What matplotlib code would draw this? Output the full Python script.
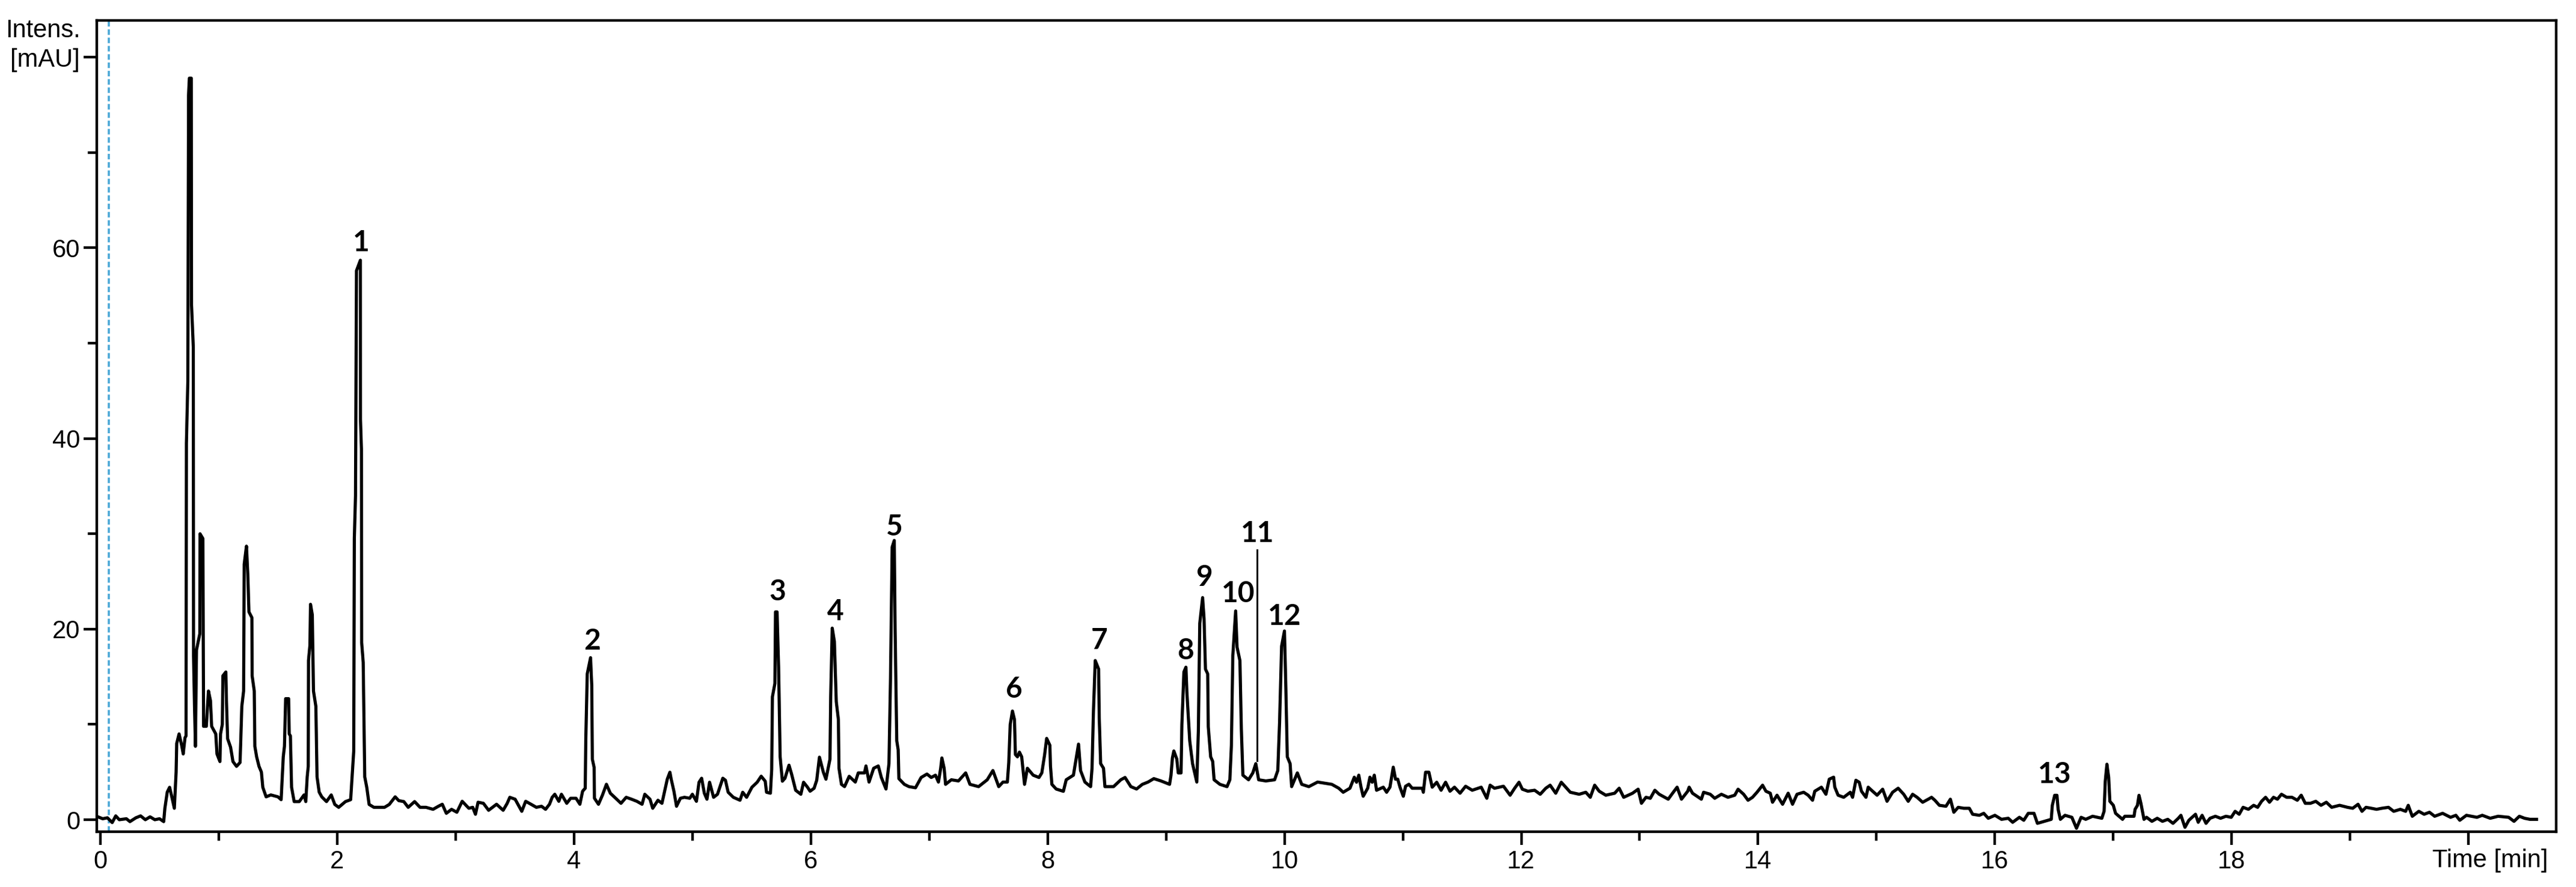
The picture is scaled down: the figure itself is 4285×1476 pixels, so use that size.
import matplotlib
matplotlib.use('Agg')
import matplotlib.pyplot as plt
from matplotlib.ticker import FixedLocator, MultipleLocator

# ---- chromatogram trace, in segments ----
time_a = [-0.02, 0.02, 0.06, 0.10, 0.13, 0.16, 0.22, 0.25, 0.30, 0.34, 0.38, 0.42, 0.46, 0.50, 0.535,
          0.545, 0.565, 0.585, 0.60, 0.625, 0.64, 0.645, 0.665, 0.685, 0.70, 0.715, 0.724,
          0.727, 0.739, 0.745, 0.752, 0.768, 0.770, 0.785, 0.787, 0.795, 0.803,
          0.812, 0.840, 0.842, 0.866, 0.872, 0.895, 0.913, 0.930, 0.940, 0.975, 0.985, 1.010,
          1.015, 1.030, 1.035, 1.060, 1.065, 1.075, 1.100, 1.120, 1.150, 1.180, 1.195, 1.210,
          1.215, 1.234, 1.245, 1.255, 1.280, 1.282, 1.300, 1.305, 1.320, 1.340, 1.360, 1.372,
          1.400, 1.440, 1.500, 1.527, 1.545, 1.555, 1.565, 1.590, 1.595, 1.605, 1.615, 1.637,
          1.680, 1.720, 1.735, 1.747, 1.756, 1.758, 1.770, 1.775, 1.790, 1.800, 1.820, 1.830,
          1.848, 1.870, 1.910, 1.950, 1.980, 2.013, 2.070, 2.114, 2.132, 2.140, 2.145, 2.155,
          2.163, 2.196, 2.197, 2.205, 2.207, 2.220, 2.233, 2.250, 2.270, 2.310, 2.360, 2.400,
          2.440, 2.490, 2.520, 2.563, 2.600, 2.654, 2.700, 2.750]
int_a = [0.3, 0.1, 0.2, -0.3, 0.4, 0.0, 0.1, -0.2, 0.2, 0.4, 0.0, 0.3, 0.0, 0.1, -0.2,
         1.2, 2.9, 3.4, 2.6, 1.2, 5.0, 8.0, 9.0, 7.9, 6.9, 8.6, 8.8,
         39.5, 46.0, 76.0, 77.8, 77.8, 54.0, 49.6, 17.2, 12.0, 7.7,
         17.8, 19.5, 30.0, 29.5, 9.8, 9.8, 13.5, 12.5, 9.8, 9.0, 6.9, 6.1,
         9.0, 10.0, 15.1, 15.5, 12.5, 8.5, 7.6, 6.1, 5.6, 6.0, 11.9, 13.5,
         26.8, 28.7, 25.8, 21.8, 21.2, 15.1, 13.5, 7.7, 6.6, 5.6, 5.0, 3.4,
         2.4, 2.6, 2.4, 2.1, 6.6, 7.7, 12.7, 12.7, 9.0, 8.8, 3.4, 1.9,
         1.9, 2.6, 1.9, 4.5, 5.6, 16.7, 18.3, 22.6, 21.5, 13.5, 11.9, 4.5,
         2.9, 2.4, 1.9, 2.6, 1.6, 1.3, 1.9, 2.1, 5.6, 7.2, 29.5, 34.0,
         57.6, 58.7, 42.0, 38.9, 18.6, 16.5, 4.5, 3.4, 1.6, 1.3, 1.3, 1.3,
         1.6, 2.4, 2.0, 1.9, 1.3, 1.9, 1.3, 1.3]

time_b = [2.810, 2.855, 2.888, 2.922, 2.966, 3.011, 3.056, 3.112, 3.145, 3.168,
          3.190, 3.235, 3.279, 3.346, 3.402, 3.436, 3.458, 3.503, 3.559, 3.592,
          3.637, 3.682, 3.726, 3.760, 3.793, 3.816, 3.838, 3.872, 3.894, 3.939,
          3.972, 4.017, 4.050, 4.073, 4.095,
          4.100, 4.112, 4.140, 4.150, 4.155, 4.170, 4.173,
          4.207, 4.240, 4.274, 4.307, 4.352, 4.397, 4.441, 4.486, 4.531, 4.575,
          4.598, 4.642, 4.665, 4.709, 4.743, 4.788, 4.810, 4.821, 4.844, 4.866,
          4.899, 4.933, 4.978, 5.000, 5.034, 5.056, 5.078, 5.101, 5.123, 5.145,
          5.179, 5.212, 5.257, 5.279, 5.302, 5.346, 5.402, 5.425, 5.458, 5.503,
          5.547, 5.581, 5.615, 5.626, 5.659, 5.670,
          5.676, 5.697, 5.702, 5.715, 5.728, 5.741,
          5.760, 5.782, 5.816, 5.838, 5.872, 5.916, 5.939, 5.972, 5.994, 6.028,
          6.050, 6.073, 6.106, 6.128, 6.162]
int_b = [1.09, 1.41, 1.62, 0.67, 1.09, 0.78, 1.93, 1.20, 1.30, 0.57,
         1.83, 1.72, 0.99, 1.62, 0.99, 1.72, 2.35, 2.15, 0.88, 1.93,
         1.62, 1.30, 1.41, 1.09, 1.62, 2.35, 2.67, 1.93, 2.67, 1.72,
         2.25, 2.25, 1.62, 2.99, 3.30,
         8.53, 15.3, 17.0, 14.1, 6.36, 5.5, 2.25,
         1.62, 2.57, 3.72, 2.78, 2.25, 1.72, 2.35, 2.15, 1.93, 1.62,
         2.67, 2.15, 1.20, 2.04, 1.72, 4.25, 4.98, 4.25, 2.99, 1.41,
         2.25, 2.35, 2.25, 2.67, 1.93, 3.93, 4.35, 2.78, 2.15, 3.93,
         2.35, 2.67, 4.35, 4.14, 2.88, 2.35, 2.04, 2.88, 2.35, 3.41,
         3.93, 4.56, 4.04, 2.88, 2.78, 5.30,
         12.9, 14.3, 21.8, 21.8, 16.0, 6.60,
         4.04, 4.35, 5.72, 4.77, 3.09, 2.67, 3.93, 3.41, 2.99, 3.30,
         4.14, 6.56, 4.98, 4.25, 6.35]

time_c = [6.168, 6.181, 6.199, 6.215, 6.233, 6.238, 6.259, 6.285, 6.324, 6.376,
          6.401, 6.453, 6.466, 6.492, 6.531, 6.570, 6.596, 6.635, 6.660, 6.673,
          6.687, 6.705, 6.712, 6.726, 6.738, 6.744, 6.790, 6.829]
int_c = [12.9, 20.1, 18.7, 12.4, 10.5, 5.40, 3.71, 3.47, 4.55, 3.95,
         4.91, 4.91, 5.64, 3.95, 5.40, 5.64, 4.43, 3.22, 5.88, 14.8,
         28.6, 29.3, 20.1, 8.29, 7.33, 4.31, 3.71, 3.47]

time_d = [6.884, 6.932, 6.981, 7.017, 7.053, 7.078, 7.097, 7.107, 7.126, 7.138, 7.187, 7.247,
          7.308, 7.344, 7.417, 7.490, 7.538, 7.587, 7.623, 7.660, 7.672, 7.684, 7.703, 7.720,
          7.728, 7.745, 7.762, 7.781, 7.805, 7.829, 7.878, 7.927, 7.951, 7.975, 7.992, 8.019,
          8.024, 8.036, 8.072, 8.133, 8.157, 8.218, 8.247, 8.261, 8.278, 8.315, 8.363, 8.375,
          8.387, 8.402, 8.431, 8.436, 8.448, 8.472, 8.484, 8.557, 8.618, 8.654, 8.703, 8.751,
          8.800, 8.848, 8.897, 8.957, 9.030, 9.042, 9.054, 9.066, 9.091, 9.103, 9.127, 9.134,
          9.151, 9.168, 9.176, 9.200, 9.224, 9.260, 9.273, 9.285, 9.309, 9.321, 9.333, 9.352,
          9.357, 9.377, 9.394, 9.406, 9.455, 9.515, 9.539, 9.552, 9.564, 9.588, 9.600, 9.624,
          9.636, 9.649, 9.697, 9.733, 9.758, 9.782, 9.843, 9.917, 9.944, 9.959, 9.976, 10.000,
          10.012, 10.024, 10.048, 10.061, 10.109, 10.146, 10.206, 10.280, 10.400]
int_d = [3.35, 4.43, 4.79, 4.43, 4.67, 3.95, 5.40, 6.48, 5.40, 3.71, 4.19, 4.07,
         4.91, 3.71, 3.47, 4.19, 5.16, 3.47, 3.95, 3.95, 6.00, 9.98, 11.4, 10.5,
         6.84, 6.60, 7.09, 6.60, 3.71, 5.40, 4.67, 4.43, 4.91, 6.84, 8.53, 7.81,
         5.64, 3.71, 3.22, 2.98, 4.19, 4.67, 6.84, 7.93, 5.16, 3.95, 3.47, 5.40,
         11.4, 16.7, 15.8, 10.7, 5.88, 5.40, 3.47, 3.47, 4.19, 4.43, 3.47, 3.22,
         3.71, 3.95, 4.31, 4.07, 3.71, 4.67, 6.48, 7.21, 6.36, 4.91, 4.91, 9.98,
         15.5, 16.0, 13.4, 8.29, 5.88, 3.95, 9.26, 20.6, 23.3, 21.1, 15.8, 15.3,
         9.74, 6.60, 6.12, 4.19, 3.71, 3.47, 4.19, 7.81, 17.2, 21.9, 18.1, 16.7,
         9.50, 4.67, 4.19, 4.91, 5.88, 4.19, 4.07, 4.19, 5.16, 10.2, 18.2, 19.8,
         13.8, 6.60, 5.88, 3.47, 4.91, 3.71, 3.47, 3.95, 3.71]

time_e = [10.459, 10.496, 10.553, 10.590, 10.609, 10.628, 10.647, 10.665, 10.703, 10.722,
          10.741, 10.759, 10.778, 10.835, 10.863, 10.891, 10.919, 10.938, 10.957, 10.976,
          11.004, 11.023, 11.051, 11.079, 11.164, 11.173, 11.192, 11.220, 11.248, 11.286,
          11.323, 11.361, 11.398, 11.436, 11.483, 11.530, 11.586, 11.662, 11.709, 11.737,
          11.774, 11.850, 11.906, 11.944, 11.981, 12.009, 12.056, 12.113, 12.160, 12.207,
          12.244, 12.291, 12.338, 12.376, 12.414, 12.489, 12.545, 12.583, 12.620, 12.658,
          12.714, 12.789, 12.827, 12.865, 12.940, 12.987, 13.015, 13.053, 13.090, 13.128,
          13.165, 13.241, 13.278, 13.316, 13.353, 13.406]
int_e = [3.30, 2.88, 3.30, 4.46, 3.93, 4.67, 3.41, 2.46, 3.30, 4.46,
         3.93, 4.67, 3.09, 3.41, 2.88, 3.41, 5.51, 4.25, 4.25, 3.41,
         2.46, 3.51, 3.72, 3.30, 3.30, 2.88, 4.98, 4.98, 3.41, 3.93,
         3.09, 3.93, 2.99, 3.41, 2.78, 3.51, 3.09, 3.41, 2.25, 3.62,
         3.30, 3.51, 2.57, 3.30, 3.93, 3.20, 2.99, 3.09, 2.67, 3.30,
         3.62, 2.78, 3.93, 3.41, 2.88, 2.67, 2.88, 2.35, 3.62, 2.99,
         2.57, 2.78, 3.30, 2.35, 2.78, 3.20, 1.72, 2.35, 2.25, 3.09,
         2.67, 2.15, 2.78, 3.41, 2.15, 2.99]

time_f = [13.418, 13.446, 13.484, 13.521, 13.540, 13.596, 13.634, 13.690, 13.746, 13.803,
          13.831, 13.878, 13.915, 13.953, 13.991, 14.038, 14.066, 14.103, 14.122, 14.160,
          14.207, 14.254, 14.291, 14.329, 14.385, 14.423, 14.460, 14.479, 14.535, 14.573,
          14.601, 14.638, 14.648, 14.676, 14.723, 14.779, 14.798, 14.826, 14.854, 14.873,
          14.911, 14.930, 14.967, 15.005, 15.052, 15.089, 15.136, 15.183, 15.230, 15.268,
          15.305, 15.343, 15.390, 15.437, 15.465, 15.493, 15.531, 15.587, 15.624, 15.653,
          15.690, 15.737, 15.784, 15.812, 15.869, 15.906, 15.944, 16.000, 16.056, 16.113,
          16.150, 16.207, 16.244, 16.282]
int_f = [3.41, 2.78, 2.46, 2.15, 2.88, 2.67, 2.25, 2.67, 2.35, 2.57,
         3.20, 2.67, 2.04, 2.35, 2.88, 3.62, 2.99, 2.78, 1.83, 2.57,
         1.62, 2.78, 1.62, 2.67, 2.88, 2.57, 2.04, 2.99, 3.41, 2.67,
         4.25, 4.46, 3.41, 2.57, 2.35, 2.88, 2.35, 4.14, 3.93, 2.99,
         2.35, 3.41, 2.99, 2.57, 3.20, 1.93, 2.88, 3.30, 2.67, 1.93,
         2.67, 2.35, 1.83, 2.15, 2.35, 2.04, 1.51, 1.41, 2.15, 0.78,
         1.30, 1.20, 1.20, 0.57, 0.46, 0.67, 0.15, 0.46, 0.04, 0.15,
         -0.27, 0.25, -0.06, 0.67]

time_g = [16.330, 16.359, 16.417, 16.476, 16.485, 16.505, 16.524, 16.534, 16.553, 16.592,
          16.650, 16.689, 16.728, 16.767, 16.825, 16.903, 16.922, 16.932, 16.946, 16.961,
          16.971, 17.000, 17.019, 17.078, 17.097, 17.175, 17.184, 17.204, 17.217, 17.233]
int_g = [0.67, -0.38, -0.17, 0.04, 1.51, 2.56, 2.56, 1.09, 0.04, 0.46,
         0.25, -0.90, 0.25, 0.04, 0.36, 0.15, 0.88, 4.03, 5.82, 4.45,
         1.93, 1.51, 0.67, 0.04, 0.36, 0.36, 1.09, 1.51, 2.56, 1.72]

time_h = [17.259, 17.281, 17.326, 17.371, 17.415, 17.460, 17.504, 17.549, 17.571, 17.605,
          17.638, 17.694, 17.717, 17.750, 17.783, 17.817, 17.862, 17.906, 17.951, 17.996,
          18.029, 18.063, 18.096, 18.141, 18.185, 18.219, 18.252, 18.286, 18.319, 18.353,
          18.386, 18.420, 18.464, 18.509, 18.554, 18.587, 18.621, 18.665, 18.710, 18.754,
          18.799, 18.844, 18.911, 18.978, 19.022, 19.067, 19.100, 19.134, 19.179, 19.223,
          19.268, 19.324, 19.368, 19.424, 19.469, 19.491, 19.525, 19.580, 19.625, 19.670,
          19.714, 19.781, 19.848, 19.893, 19.926, 19.982, 20.071, 20.116, 20.183, 20.250,
          20.339, 20.384, 20.429, 20.473, 20.518, 20.574]
int_h = [0.04, 0.25, -0.17, 0.15, -0.17, 0.04, -0.38, 0.15, 0.46, -0.80,
         -0.06, 0.57, -0.27, 0.46, -0.38, 0.15, 0.36, 0.15, 0.36, 0.25,
         0.88, 0.57, 1.30, 1.09, 1.51, 1.30, 1.93, 2.35, 1.83, 2.35,
         2.15, 2.67, 2.35, 2.35, 2.04, 2.57, 1.72, 1.72, 1.93, 1.51,
         1.83, 1.30, 1.51, 1.30, 1.20, 1.62, 0.88, 1.30, 1.20, 1.09,
         1.20, 1.30, 0.88, 1.09, 0.88, 1.51, 0.36, 0.88, 0.57, 0.78,
         0.36, 0.67, 0.25, 0.46, -0.06, 0.46, 0.25, 0.46, 0.15, 0.36,
         0.25, -0.17, 0.36, 0.15, 0.04, 0.04]

# ---- peak annotations ----
peak_labels = ['1', '2', '3', '4', '5', '6', '7', '8', '9', '10', '11', '12', '13']
label_time = [2.205, 4.153, 5.72, 6.207, 6.705, 7.716, 8.436, 9.163, 9.328, 9.612, 9.77, 10.0, 16.505]
label_intensity = [60.5, 18.7, 23.9, 21.8, 30.7, 13.7, 18.8, 17.7, 25.4, 23.7, 30.0, 21.3, 4.7]

leader_time = [9.77]
leader_low = [6.2]
leader_high = [28.3]

marker_time = 0.07

x_major = [0, 2, 4, 6, 8, 10, 12, 14, 16, 18, 20]
x_major_labels = ['0', '2', '4', '6', '8', '10', '12', '14', '16', '18', '']
y_major = [0, 20, 40, 60, 80]
y_major_labels = ['0', '20', '40', '60', '[mAU]']

time_min = time_a + time_b + time_c + time_d + time_e + time_f + time_g + time_h
intensity_mau = int_a + int_b + int_c + int_d + int_e + int_f + int_g + int_h

axis_font = ['Liberation Sans', 'DejaVu Sans']
label_font = ['Lato', 'DejaVu Sans']

W, H, DPI = 4285, 1476, 300
fig = plt.figure(figsize=(W / DPI, H / DPI), dpi=DPI)
ax = fig.add_axes([161 / W, 1 - 1384 / H, (4252 - 161) / W, (1384 - 34) / H])

ax.axvline(marker_time, color='#4aa8d6', lw=0.85, ls=(0, (2.6, 1.3)), zorder=1)
ax.plot(time_min, intensity_mau, color='black', lw=1.25, zorder=3)

for t, lo, hi in zip(leader_time, leader_low, leader_high):
    ax.plot([t, t], [lo, hi], color='black', lw=0.7, zorder=3)

for lab, t, v in zip(peak_labels, label_time, label_intensity):
    ax.text(t, v, lab, ha='center', va='center', fontsize=11.5, fontweight='bold',
            family=label_font, zorder=4)

ax.set_xlim(-0.03, 20.74)
ax.set_ylim(-1.26, 83.86)

ax.xaxis.set_major_locator(FixedLocator(x_major))
ax.set_xticklabels(x_major_labels)
ax.xaxis.set_minor_locator(MultipleLocator(1))
ax.yaxis.set_major_locator(FixedLocator(y_major))
ax.set_yticklabels(y_major_labels)
ax.yaxis.set_minor_locator(MultipleLocator(10))

ax.tick_params(which='major', direction='out', length=5.2, width=1.05, labelsize=10, color='black')
ax.tick_params(which='minor', direction='out', length=3.5, width=1.05, color='black')
ax.tick_params(axis='x', which='major', pad=2.0)
ax.tick_params(axis='y', which='major', pad=1.5)
for lab in ax.get_xticklabels() + ax.get_yticklabels():
    lab.set_family(axis_font)

for sp in ax.spines.values():
    sp.set_linewidth(1.05)
    sp.set_color('black')

fig.text(134 / W, 1 - 62 / H, 'Intens.', ha='right', va='baseline', fontsize=10, family=axis_font)
fig.text(4238 / W, 1 - 1443 / H, 'Time [min]', ha='right', va='baseline', fontsize=10, family=axis_font)

fig.savefig('out.png', dpi=DPI)
